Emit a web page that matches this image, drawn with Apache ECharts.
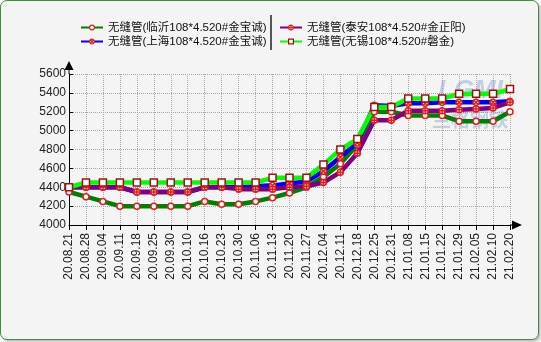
<!DOCTYPE html>
<html>
<head>
<meta charset="utf-8">
<script src="https://cdn.jsdelivr.net/npm/echarts@6/dist/echarts.min.js"></script>
<style>
html,body{margin:0;padding:0;background:#ffffff;}
#frame{position:absolute;left:0;top:0;width:537px;height:338px;border:1px solid #3f8f3a;border-radius:7px;background:#f4f4f4;box-shadow:2px 2px 3px #bbb;}
#chart{position:absolute;left:0;top:0;width:541px;height:342px;}
</style>
</head>
<body>
<div id="frame"></div>
<div id="chart"></div>
<script>
var categories = ['20.08.21','20.08.28','20.09.04','20.09.11','20.09.18','20.09.25','20.09.30','20.10.10','20.10.16','20.10.23','20.10.30','20.11.06','20.11.13','20.11.20','20.11.27','20.12.04','20.12.11','20.12.18','20.12.25','20.12.31','21.01.08','21.01.15','21.01.22','21.01.29','21.02.05','21.02.10','21.02.20'];
var seriesNames = ['无缝管(临沂108*4.520#金宝诚)','无缝管(上海108*4.520#金宝诚)','无缝管(泰安108*4.520#金正阳)','无缝管(无锡108*4.520#磐金)'];
var linyi  = [4350,4300,4250,4200,4200,4200,4200,4200,4250,4220,4220,4250,4290,4340,4400,4510,4650,4850,5200,5200,5160,5160,5160,5100,5100,5100,5200];
var shanghai = [4400,4400,4400,4400,4350,4350,4350,4350,4400,4400,4400,4410,4420,4440,4460,4570,4720,4870,5270,5260,5290,5290,5300,5300,5300,5300,5310];
var taian  = [4400,4400,4400,4400,4350,4350,4350,4350,4400,4400,4380,4380,4380,4400,4410,4450,4560,4760,5110,5110,5210,5210,5210,5220,5230,5240,5300];
var wuxi   = [4400,4450,4450,4450,4450,4450,4450,4450,4450,4450,4450,4450,4500,4500,4500,4640,4800,4910,5250,5250,5340,5340,5340,5390,5390,5390,5440];
var yTicks = {min:4000, max:5600, interval:200};

var chart = echarts.init(document.getElementById('chart'), null, {renderer:'canvas'});
var crossCircle = 'path://M5,0A5,5,0,1,1,4.99,0Z M1.8,1.8L8.2,8.2 M8.2,1.8L1.8,8.2';
var plusCircle = 'path://M5,0A5,5,0,1,1,4.99,0Z M5,1L5,9 M1,5L9,5';
function mk(name, data, color, symbol, symSize, border){
  return {
    name:name, type:'line', data:data, smooth:false,
    symbol:symbol, symbolSize:symSize, showAllSymbol:true,
    lineStyle:{color:color, width:4.5},
    itemStyle:{color:'#ffffff', borderColor:border, borderWidth:1.5},
    emphasis:{disabled:true}, animation:false
  };
}
var legendText = {fontSize:11.5, color:'#111', fontFamily:'Liberation Sans, Noto Sans CJK SC', lineHeight:13};
function legItem(i){
  return {name:seriesNames[i], itemStyle:{color:'#ffffff', borderColor:i===3?'#a01010':'#e02020', borderWidth:1.2}};
}
chart.setOption({
  backgroundColor:'transparent',
  animation:false,
  legend:[
    {orient:'vertical', left:75, top:16, itemWidth:22, itemHeight:6, itemGap:1, textStyle:legendText, data:[legItem(0), legItem(1)]},
    {orient:'vertical', left:274, top:16, itemWidth:22, itemHeight:6, itemGap:1, textStyle:legendText, data:[legItem(2), legItem(3)]}
  ],
  grid:{left:69, right:31, top:74, bottom:117, containLabel:false},
  xAxis:{
    type:'category', data:categories, boundaryGap:false,
    axisLine:{lineStyle:{color:'#000', width:1}},
    axisTick:{show:true, length:5, inside:false, interval:0, lineStyle:{color:'#000'}},
    axisLabel:{rotate:90, interval:0, fontSize:12, color:'#222', margin:8, fontFamily:'Liberation Sans'},
    splitLine:{show:true, interval:0, lineStyle:{color:'#a8a8a8', type:'dotted', width:1}}
  },
  yAxis:{
    type:'value', min:yTicks.min, max:yTicks.max, interval:yTicks.interval,
    axisLine:{show:true, lineStyle:{color:'#000', width:1}},
    axisTick:{show:true, inside:true, length:4, lineStyle:{color:'#000'}},
    axisLabel:{fontSize:12, color:'#222', margin:3, fontFamily:'Liberation Sans', formatter:function(v){return String(v);}},
    splitLine:{show:true, lineStyle:{color:'#a8a8a8', type:'dotted', width:1}}
  },
  graphic:[
    {type:'text', left:438, top:78, z:1, style:{text:'LGMI', font:'italic bold 26px Liberation Sans', fill:'rgba(120,150,200,0.4)'}},
    {type:'text', left:432, top:110, z:1, style:{text:'兰格钢铁', font:'bold 19px Noto Sans CJK SC', fill:'rgba(120,150,200,0.4)'}},
    {type:'line', z:5, shape:{x1:271, y1:15, x2:271, y2:50}, style:{stroke:'#222', lineWidth:1.5}},
    {type:'line', z:5, shape:{x1:69, y1:74, x2:69, y2:66}, style:{stroke:'#000', lineWidth:1}},
    {type:'polygon', z:5, shape:{points:[[64.5,70],[73.5,70],[69,61]]}, style:{fill:'#000'}},
    {type:'line', z:5, shape:{x1:510, y1:225, x2:514, y2:225}, style:{stroke:'#000', lineWidth:1}},
    {type:'polygon', z:5, shape:{points:[[512,220.5],[512,229.5],[522,225]]}, style:{fill:'#000'}}
  ],
  series:[
    mk(seriesNames[0], linyi, '#008000', 'circle', 6, '#e02020'),
    mk(seriesNames[1], shanghai, '#0000f0', crossCircle, 6, '#e02020'),
    mk(seriesNames[2], taian, '#800080', plusCircle, 6, '#e02020'),
    mk(seriesNames[3], wuxi, '#00ff00', 'rect', 7, '#a01010')
  ]
});
</script>
</body>
</html>
